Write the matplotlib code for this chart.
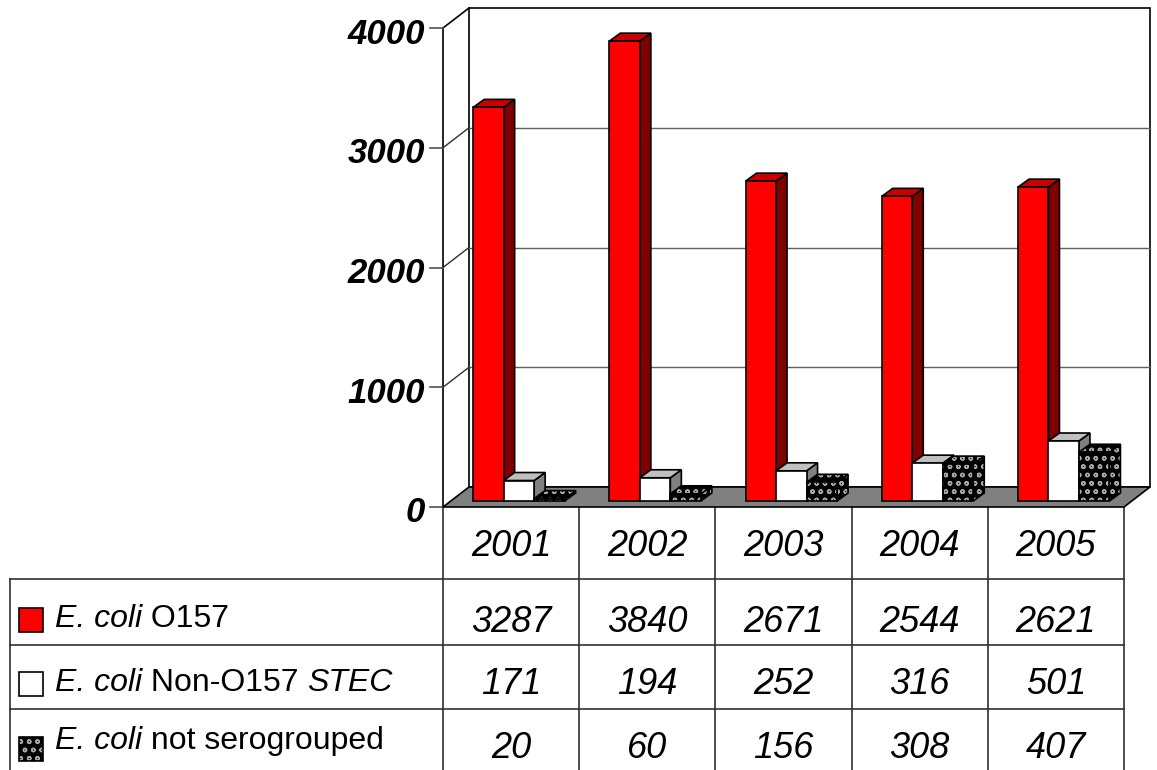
import matplotlib
matplotlib.use("Agg")
import matplotlib.pyplot as plt
from matplotlib.patches import Polygon

plt.rcParams["font.family"] = ["Liberation Sans", "DejaVu Sans"]

years = ["2001", "2002", "2003", "2004", "2005"]
o157 = [3287, 3840, 2671, 2544, 2621]
non_o157 = [171, 194, 252, 316, 501]
not_serogrouped = [20, 60, 156, 308, 407]
y_ticks = [0, 1000, 2000, 3000, 4000]
series_names = [("E. coli", " O157", ""), ("E. coli", " Non-O157 ", "STEC"), ("E. coli", " not serogrouped", "")]

W, H = 1157, 770
fig = plt.figure(figsize=(W / 100, H / 100), dpi=100)

# overlay axes in pixel coords for table + legend
tab = fig.add_axes([0, 0, 1, 1])
tab.set_xlim(0, W)
tab.set_ylim(H, 0)
tab.axis("off")

# front plane of the 3d chart
left, right, base, top = 443, 1124, 507, 28
ax = fig.add_axes([left / W, (H - base) / H, (right - left) / W, (base - top) / H])
ax.set_xlim(0, len(years))
ax.set_ylim(0, 4000)
ax.axis("off")

px_x = (right - left) / len(years)
px_y = (base - top) / 4000
DX = 26 / px_x   # wall depth
DY = 20 / px_y
n = len(years)
dots = "#a8a8a8"

def poly(pts, fc, ec="black", lw=1.2, hatch=None, z=1):
    if hatch:
        ax.add_patch(Polygon(pts, closed=True, facecolor=fc, edgecolor=dots,
                             hatch=hatch, lw=0, clip_on=False, zorder=z))
        ax.add_patch(Polygon(pts, closed=True, facecolor="none", edgecolor=ec,
                             lw=lw, clip_on=False, zorder=z))
    else:
        ax.add_patch(Polygon(pts, closed=True, facecolor=fc, edgecolor=ec,
                             lw=lw, clip_on=False, zorder=z))

# walls
poly([(0, 0), (DX, DY), (DX, 4000 + DY), (0, 4000)], "white", ec="none")
poly([(DX, DY), (n + DX, DY), (n + DX, 4000 + DY), (DX, 4000 + DY)], "white")
ax.plot([0, 0], [0, 4000], color="black", lw=1.2, clip_on=False, zorder=2)
ax.plot([0, DX], [4000, 4000 + DY], color="black", lw=1.2, clip_on=False, zorder=2)
for v in y_ticks[1:-1]:
    ax.plot([DX, n + DX], [v + DY, v + DY], color="#606060", lw=1.0, clip_on=False, zorder=1.5)
    ax.plot([0, DX], [v, v + DY], color="#303030", lw=1.0, clip_on=False, zorder=1.5)
for v in y_ticks:
    ax.plot([-13 / px_x, 0], [v, v], color="#505050", lw=1.2, clip_on=False, zorder=2)
    ax.text(-18 / px_x, v - 6 / px_y, str(v), ha="right", va="center",
            fontsize=25, fontweight="bold", fontstyle="italic")

# floor
poly([(0, 0), (n, 0), (n + DX, DY), (DX, DY)], "#808080", z=3)

# bars
bw = 30.5 / px_x
off = (1 - 3 * bw) / 2
d0 = 0.3
bdx = 11 / px_x
bdy = 8 / px_y
styles = [
    dict(front="#ff0000", top="#c80000", side="#800000", hatch=None),
    dict(front="white", top="#c0c0c0", side="#808080", hatch=None),
    dict(front="black", top="black", side="black", hatch="oo"),
]
for i in range(n):
    for j, vals in enumerate([o157, non_o157, not_serogrouped]):
        v = vals[i]
        s = styles[j]
        x0 = i + off + j * bw + d0 * DX
        y0 = d0 * DY
        z = 4 + i * 0.1 + j * 0.01
        poly([(x0 + bw, y0), (x0 + bw + bdx, y0 + bdy), (x0 + bw + bdx, y0 + v + bdy), (x0 + bw, y0 + v)],
             s["side"], hatch=s["hatch"], z=z)
        poly([(x0, y0 + v), (x0 + bw, y0 + v), (x0 + bw + bdx, y0 + v + bdy), (x0 + bdx, y0 + v + bdy)],
             s["top"], hatch=s["hatch"], z=z)
        poly([(x0, y0), (x0 + bw, y0), (x0 + bw, y0 + v), (x0, y0 + v)],
             s["front"], hatch=s["hatch"], z=z)

# table
lc = "#303030"
rows_y = [579, 645, 709]
for k in range(n + 1):
    x = left + k * px_x
    tab.plot([x, x], [base, H], color=lc, lw=1.2)
tab.plot([10, 10], [rows_y[0], H], color=lc, lw=1.2)
for y in rows_y:
    tab.plot([10, right], [y, y], color=lc, lw=1.2)

for k, yr in enumerate(years):
    cx = left + (k + 0.5) * px_x
    tab.text(cx, 546, yr, ha="center", va="center", fontsize=26, fontstyle="italic")
    for y, vals in zip([622, 684, 748], [o157, non_o157, not_serogrouped]):
        tab.text(cx, y, str(vals[k]), ha="center", va="center", fontsize=26, fontstyle="italic")

# legend rows
marker_y = [608, 672, 737]
text_y = [619, 683, 741]
marker_fc = ["#ff0000", "white", "black"]
for r in range(3):
    pts = [(19, marker_y[r]), (43, marker_y[r]), (43, marker_y[r] + 24), (19, marker_y[r] + 24)]
    if r == 2:
        tab.add_patch(Polygon(pts, closed=True, facecolor="black", edgecolor=dots, hatch="oo", lw=0))
    tab.add_patch(Polygon(pts, closed=True, facecolor=marker_fc[r] if r < 2 else "none",
                          edgecolor="black", lw=1.2))
    a, b, c = series_names[r]
    t1 = tab.text(55, text_y[r], a, ha="left", va="center", fontsize=23, fontstyle="italic")
    t2 = tab.annotate(b, xy=(1, 0), xycoords=t1, ha="left", va="bottom", fontsize=23)
    if c:
        tab.annotate(c, xy=(1, 0), xycoords=t2, ha="left", va="bottom", fontsize=23, fontstyle="italic")

fig.savefig("out.png", dpi=100)
